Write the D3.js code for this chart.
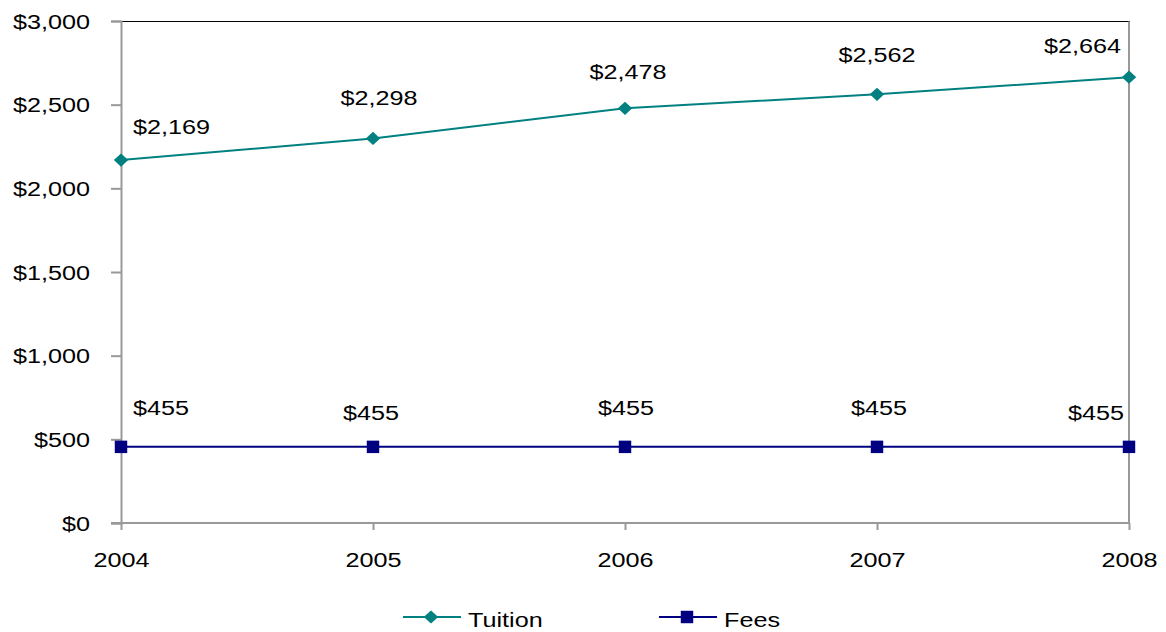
<!DOCTYPE html>
<html>
<head>
<meta charset="utf-8">
<script src="https://cdn.jsdelivr.net/npm/d3@7/dist/d3.min.js"></script>
<style>
  html, body { margin: 0; padding: 0; background: #fff; }
  svg text { font-family: "Liberation Sans", Arial, sans-serif; fill: #000; font-size: 20px; }
</style>
</head>
<body>
<svg id="chart" width="1166" height="632"></svg>
<script>
// Chart data
const years = [2004, 2005, 2006, 2007, 2008];
const tuition = [2169, 2298, 2478, 2562, 2664];
const fees = [455, 455, 455, 455, 455];
const yTicks = [0, 500, 1000, 1500, 2000, 2500, 3000];

// Label placement (anchor, dx, dy relative to the point)
const tuitionLabelPos = [
  { anchor: "start", dx: 12, dy: -26 },
  { anchor: "middle", dx: 6, dy: -33 },
  { anchor: "middle", dx: 3, dy: -29 },
  { anchor: "middle", dx: 0, dy: -32 },
  { anchor: "end", dx: -8, dy: -24 }
];
const feesLabelPos = [
  { anchor: "start", dx: 12, dy: -32 },
  { anchor: "middle", dx: -2, dy: -27 },
  { anchor: "middle", dx: 1, dy: -32 },
  { anchor: "middle", dx: 2, dy: -32 },
  { anchor: "end", dx: -5, dy: -27 }
];

const svg = d3.select("#chart");
const plotLeft = 121, plotRight = 1129, plotTop = 21, plotBottom = 523;

const x = d3.scalePoint().domain(years).range([plotLeft, plotRight]);
const y = d3.scaleLinear().domain([0, 3000]).range([plotBottom, plotTop]);
const fmt = v => "$" + d3.format(",")(v);

// Diamond marker slightly wider than tall
const diamond = {
  draw(ctx, size) {
    const w = 7.2, h = 6.6;
    ctx.moveTo(0, -h); ctx.lineTo(w, 0); ctx.lineTo(0, h); ctx.lineTo(-w, 0); ctx.closePath();
  }
};

// Plot frame (top and right borders)
svg.append("line").attr("x1", plotLeft).attr("x2", plotRight + 1)
  .attr("y1", plotTop + 0.5).attr("y2", plotTop + 0.5)
  .attr("stroke", "#000").attr("stroke-width", 1);
svg.append("line").attr("x1", plotRight).attr("x2", plotRight)
  .attr("y1", plotTop).attr("y2", plotBottom)
  .attr("stroke", "#777").attr("stroke-width", 1.5);

// Y axis
const yAxis = svg.append("g")
  .attr("transform", `translate(${plotLeft},0)`)
  .call(d3.axisLeft(y).tickValues(yTicks).tickFormat(fmt).tickSize(10).tickPadding(21));
yAxis.attr("font-size", null).attr("font-family", null);
yAxis.select(".domain").attr("stroke", "#999").attr("stroke-width", 2);
yAxis.selectAll(".tick line").attr("stroke", "#999").attr("stroke-width", 2);
yAxis.selectAll("text").attr("fill", "#000").attr("dy", "0.36em");

// X axis
const xAxis = svg.append("g")
  .attr("transform", `translate(0,${plotBottom})`)
  .call(d3.axisBottom(x).tickFormat(d3.format("d")).tickSize(7).tickPadding(23));
xAxis.attr("font-size", null).attr("font-family", null);
xAxis.select(".domain").attr("stroke", "#999").attr("stroke-width", 2)
  .attr("d", `M${plotLeft - 10},0H${plotRight}`);
xAxis.selectAll(".tick line").attr("stroke", "#999").attr("stroke-width", 2);
xAxis.selectAll("text").attr("fill", "#000");

const line = d3.line().x((d, i) => x(years[i])).y(d => y(d));

function drawSeries(values, color, shape, labelPos) {
  svg.append("path").datum(values)
    .attr("d", line).attr("fill", "none")
    .attr("stroke", color).attr("stroke-width", 2);
  const sym = d3.symbol().type(shape).size(155);
  svg.selectAll(null).data(values).enter().append("path")
    .attr("d", sym)
    .attr("transform", (d, i) => `translate(${x(years[i])},${y(d)})`)
    .attr("fill", color);
  svg.selectAll(null).data(values).enter().append("text")
    .attr("x", (d, i) => x(years[i]) + labelPos[i].dx)
    .attr("y", (d, i) => y(d) + labelPos[i].dy)
    .attr("text-anchor", (d, i) => labelPos[i].anchor)
    .text(d => fmt(d));
}

drawSeries(tuition, "#008080", diamond, tuitionLabelPos);
drawSeries(fees, "#000080", d3.symbolSquare, feesLabelPos);

// Legend
const legendItems = [
  { name: "Tuition", color: "#008080", shape: diamond, x0: 403 },
  { name: "Fees", color: "#000080", shape: d3.symbolSquare, x0: 659 }
];
const ly = 617;
legendItems.forEach(it => {
  const g = svg.append("g");
  g.append("line").attr("x1", it.x0).attr("x2", it.x0 + 58)
    .attr("y1", ly).attr("y2", ly).attr("stroke", it.color).attr("stroke-width", 2);
  g.append("path")
    .attr("d", d3.symbol().type(it.shape).size(155))
    .attr("transform", `translate(${it.x0 + 28},${ly})`)
    .attr("fill", it.color);
  g.append("text").attr("x", it.x0 + 65).attr("y", ly + 10).text(it.name);
});

// Widen all text horizontally to the chart's broad lettering
svg.selectAll("text").each(function () {
  const w = this.getComputedTextLength();
  d3.select(this).attr("textLength", w * 1.26).attr("lengthAdjust", "spacingAndGlyphs");
});
</script>
</body>
</html>
